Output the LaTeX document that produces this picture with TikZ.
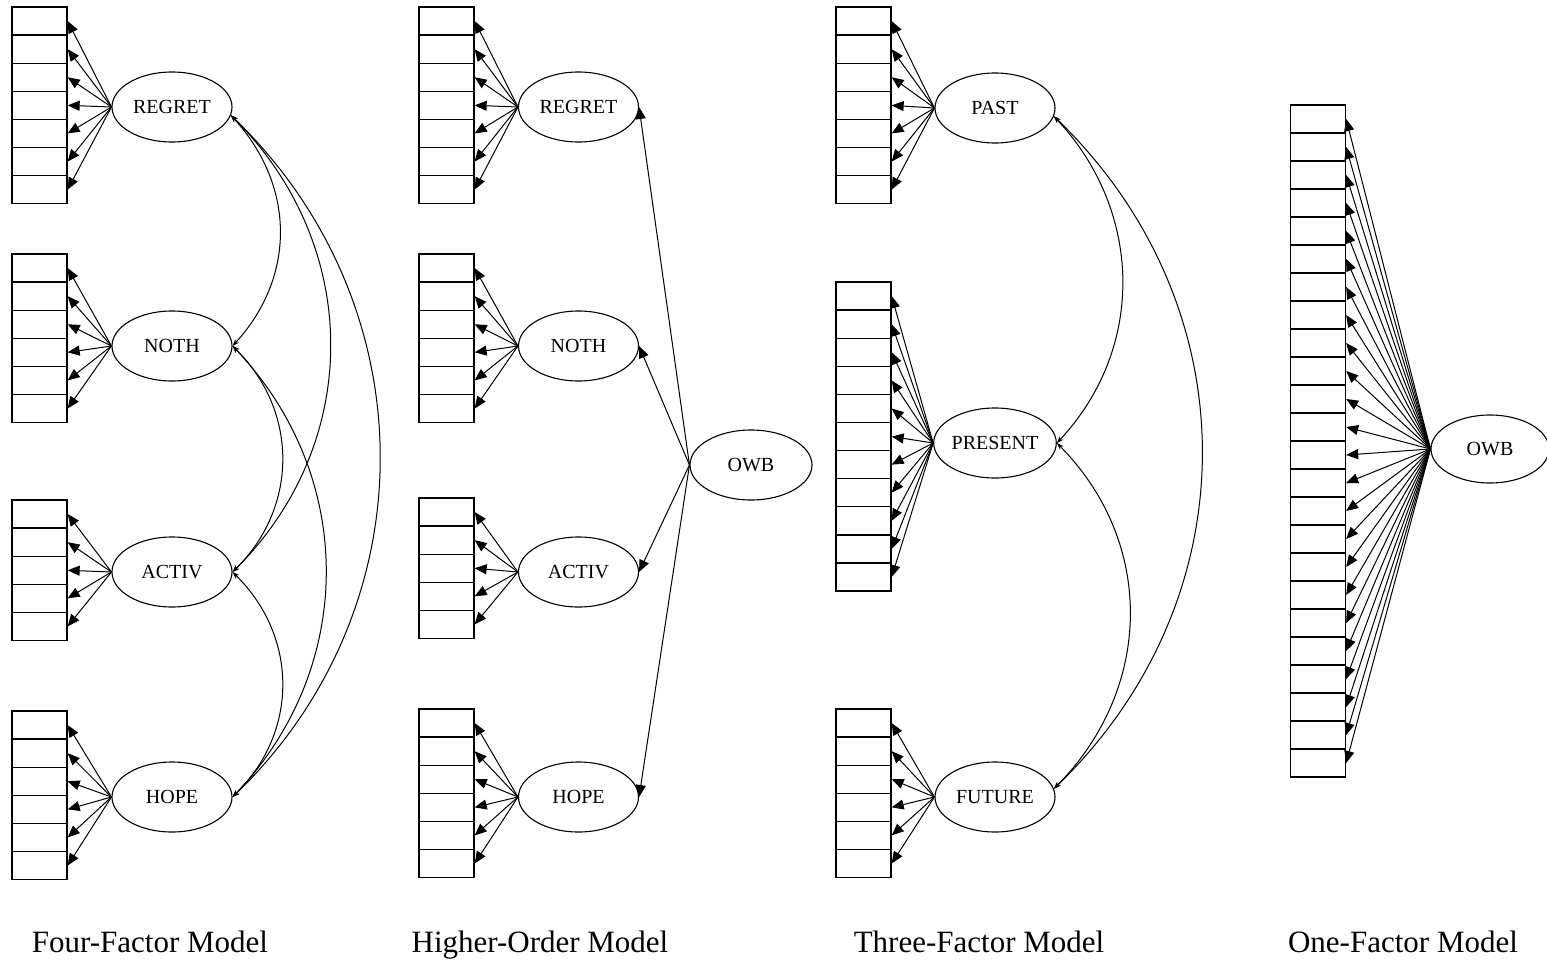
\documentclass[tikz,border=0pt]{standalone}
\usepackage{fontspec}
\setmainfont{Liberation Serif}
\usetikzlibrary{shapes.geometric,arrows.meta}

\tikzset{
  item/.style={draw,line width=1.3pt,minimum width=55pt,minimum height=28.1pt,inner sep=0pt},
  factor/.style={draw,ellipse,line width=1.1pt,minimum width=120pt,minimum height=70pt,inner sep=0pt,font=\fontsize{20}{22}\selectfont},
  load/.style={line width=1pt,-{Triangle[length=12pt,width=10pt]}},
  cov/.style={line width=1pt,{Stealth[length=7pt,width=5pt]}-{Stealth[length=7pt,width=5pt]}},
  title/.style={anchor=base,font=\fontsize{31}{36}\selectfont}
}

\begin{document}
\begin{tikzpicture}[x=1pt,y=-1pt] % 1pt = 1 pixel, y downwards
  \useasboundingbox (0,0) rectangle (1547,961);

  % four-factor model
  \foreach \f/\txt/\ytop/\cnt/\yc in {R/REGRET/7/7/107, N/NOTH/254/6/346, A/ACTIV/500/5/572, H/HOPE/711/6/797}{
    \node[factor] (a\f) at (172,\yc) {\txt};
    \foreach \i in {1,...,\cnt}{
      \node[item] (a\f\i) at (39.5,{\ytop+28.1*(\i-0.5)}) {};
      \draw[load] (a\f.west) -- (a\f\i.east);
    }
  }
  \draw[cov] (aR.-8) .. controls +(64,70) and +(64,-70) .. (aN.east);
  \draw[cov] (aN.east) .. controls +(66,65) and +(66,-65) .. (aA.east);
  \draw[cov] (aA.east) .. controls +(66,65) and +(66,-65) .. (aH.east);
  \draw[cov] (aR.-8) .. controls +(131,130) and +(131,-130) .. (aA.east);
  \draw[cov] (aN.east) .. controls +(124,130) and +(124,-130) .. (aH.east);
  \draw[cov] (aR.-8) .. controls +(197,190) and +(197,-190) .. (aH.east);

  % higher-order model
  \foreach \f/\txt/\ytop/\cnt/\yc in {R/REGRET/7/7/107, N/NOTH/254/6/346, A/ACTIV/498/5/572, H/HOPE/709/6/797}{
    \node[factor] (b\f) at (578.5,\yc) {\txt};
    \foreach \i in {1,...,\cnt}{
      \node[item] (b\f\i) at (446.5,{\ytop+28.1*(\i-0.5)}) {};
      \draw[load] (b\f.west) -- (b\f\i.east);
    }
  }
  \node[factor,minimum width=122pt] (bOWB) at (751,465) {OWB};
  \foreach \f in {R,N,A,H}
    \draw[load] (bOWB.west) -- (b\f.east);

  % three-factor model
  \foreach \f/\txt/\ytop/\cnt/\yc in {P/PAST/7/7/108, S/PRESENT/282/11/443, F/FUTURE/709/6/797}{
    \node[factor] (c\f) at (995,\yc) {\txt};
    \foreach \i in {1,...,\cnt}{
      \node[item] (c\f\i) at (863.5,{\ytop+28.1*(\i-0.5)}) {};
      \draw[load] (c\f.west) -- (c\f\i.east);
    }
  }
  \draw[cov] (cP.-8) .. controls +(89,95) and +(89,-95) .. (cS.east);
  \draw[cov] (cS.east) .. controls +(99,100) and +(99,-100) .. (cF.8);
  \draw[cov] (cP.-8) .. controls +(197,190) and +(197,-190) .. (cF.8);

  % one-factor model
  \node[factor,minimum width=118pt,minimum height=68pt] (dOWB) at (1490,449) {OWB};
  \foreach \i in {1,...,24}{
    \node[item] (d\i) at (1318,{105+28*(\i-0.5)}) {};
    \draw[load] (dOWB.west) -- (d\i.east);
  }

  % titles
  \node[title] (t1) at (150,952) {Four-Factor Model};
  \node[title] (t2) at (540,952) {Higher-Order Model};
  \node[title] (t3) at (979,952) {Three-Factor Model};
  \node[title] (t4) at (1403,952) {One-Factor Model};
\end{tikzpicture}
\end{document}
